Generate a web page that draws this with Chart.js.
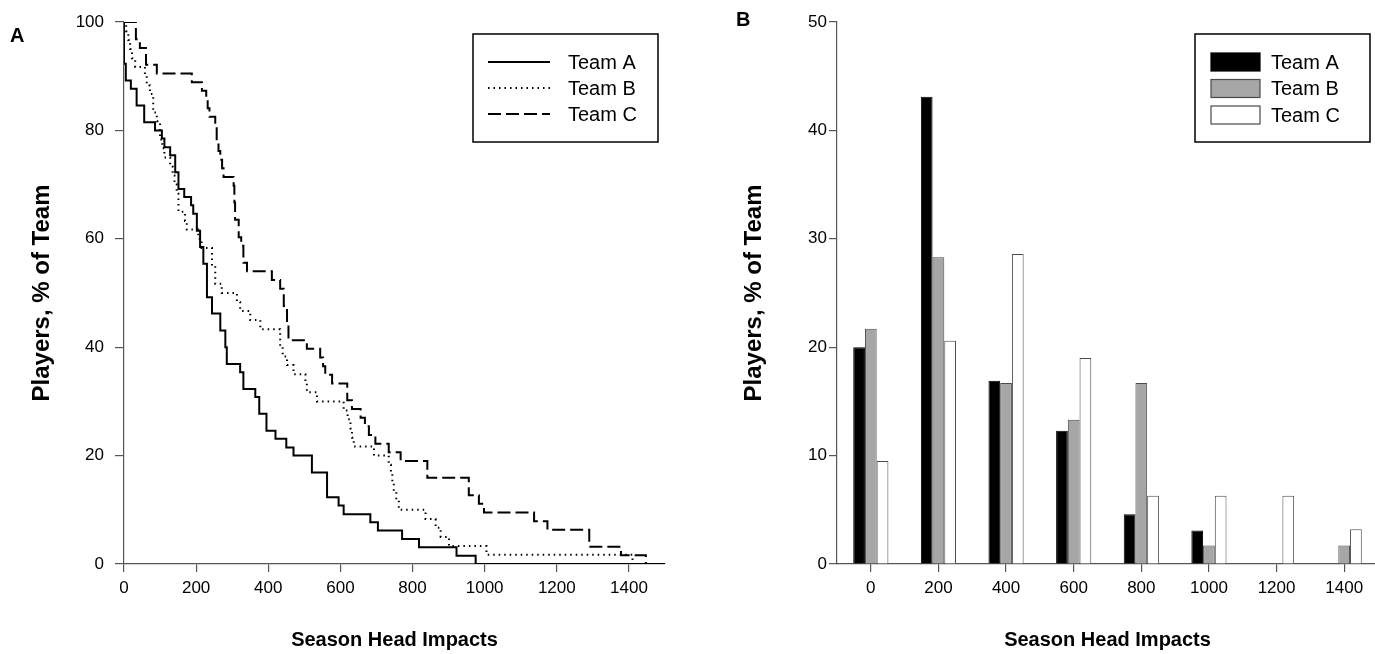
<!DOCTYPE html>
<html>
<head>
<meta charset="utf-8">
<script src="https://cdn.jsdelivr.net/npm/chart.js@4.4.0/dist/chart.umd.min.js"></script>
<style>
html, body { margin:0; padding:0; background:#fff; overflow:hidden; }
#wrap { position:relative; width:1375px; height:654px; overflow:hidden; }
#boxA { position:absolute; left:0; top:0; width:690px; height:654px; }
#boxB { position:absolute; left:690px; top:0; width:700px; height:654px; }
.panel { position:absolute; font: bold 20px "Liberation Sans", Arial, sans-serif; color:#000; }
</style>
</head>
<body>
<div id="wrap">
  <div id="boxA"><canvas id="graphiqueA" width="690" height="654"></canvas></div>
  <div id="boxB"><canvas id="graphiqueB" width="700" height="654"></canvas></div>
  <div class="panel" style="left:10px;top:24px">A</div>
  <div class="panel" style="left:736px;top:8px">B</div>
</div>
<script>
// panneau A : courbes en escalier (impacts, % de l'equipe)
let impA = [0, 0, 5, 19, 35, 56, 86, 105, 112, 128, 142, 151, 167, 186, 192, 202, 211, 220, 230, 244, 267, 281, 285, 322, 331, 364, 375, 395, 420, 450, 470, 521, 563, 595, 609, 683, 704, 771, 818, 922, 975, 1500];
let pctA = [100, 92.3, 89.2, 87.7, 84.6, 81.5, 80, 78.5, 76.9, 75.4, 72.3, 69.2, 67.7, 66.2, 64.6, 61.5, 58.5, 55.4, 49.2, 46.2, 43.1, 40, 36.9, 35.4, 32.3, 30.8, 27.7, 24.6, 23.1, 21.5, 20, 16.9, 12.3, 10.8, 9.2, 7.7, 6.2, 4.6, 3.1, 1.5, 0, 0];

let impB = [0, 6, 12, 17, 22, 31, 58, 63, 72, 81, 91, 100, 106, 112, 128, 135, 140, 146, 151, 169, 174, 206, 215, 244, 253, 271, 313, 322, 350, 378, 433, 440, 452, 470, 503, 507, 535, 609, 620, 628, 632, 637, 693, 734, 740, 744, 748, 755, 762, 836, 864, 878, 901, 1005, 1410];
let pctB = [100, 98.3, 96.7, 95, 93.3, 91.7, 90, 88.3, 86.7, 83.3, 81.7, 78.3, 76.7, 75, 73.3, 71.7, 70, 68.3, 65, 63.3, 61.7, 60, 58.3, 55, 51.7, 50, 48.3, 46.7, 45, 43.3, 40, 38.3, 36.7, 35, 33.3, 31.7, 30, 28.3, 26.7, 25, 23.3, 21.7, 20, 18.3, 16.7, 15, 13.3, 11.7, 10, 8.3, 6.7, 5, 3.3, 1.7, 0];

let impC = [0, 33, 44, 61, 91, 188, 216, 228, 232, 237, 253, 257, 262, 267, 272, 276, 304, 306, 308, 318, 325, 331, 341, 410, 433, 443, 452, 456, 507, 544, 552, 558, 577, 619, 632, 656, 668, 679, 697, 734, 767, 841, 956, 984, 998, 1137, 1174, 1290, 1378, 1447];
let pctC = [100, 96.8, 95.2, 92.1, 90.5, 88.9, 87.3, 85.7, 84.1, 82.5, 81, 77.8, 76.2, 74.6, 73, 71.4, 69.8, 66.7, 63.5, 60.3, 58.7, 55.6, 54, 52.4, 50.8, 47.6, 44.4, 41.3, 39.7, 38.1, 36.5, 34.9, 33.3, 30.2, 28.6, 27, 25.4, 23.8, 22.2, 20.6, 19, 15.9, 12.7, 11.1, 9.5, 7.9, 6.3, 3.2, 1.6, 0];

let graduationsA = [0, 200, 400, 600, 800, 1000, 1200, 1400];

// panneau B : histogramme
let classes = ['0', '200', '400', '600', '800', '1000', '1200', '1400'];
let barA = [20.0, 43.1, 16.9, 12.3, 4.6, 3.1, 0, 0];
let barB = [21.7, 28.3, 16.7, 13.3, 16.7, 1.7, 0, 1.7];
let barC = [9.5, 20.6, 28.6, 19.0, 6.3, 6.3, 6.3, 3.2];

const police = '"Liberation Sans", Arial, sans-serif';
const gris = '#555';

function points(xs, ys) {
    return xs.map((x, i) => ({x: x, y: ys[i]}));
}

// legende encadree dessinee dans le canvas
const boxLegend = {
    id: 'boxLegend',
    afterDraw(chart, args, o) {
        const ctx = chart.ctx;
        ctx.save();
        ctx.strokeStyle = '#000';
        ctx.lineWidth = 1.5;
        ctx.setLineDash([]);
        ctx.strokeRect(o.x, o.y, o.w, o.h);
        ctx.font = '20px ' + police;
        ctx.textBaseline = 'middle';
        chart.data.datasets.forEach((ds, i) => {
            const y = o.y + o.first + i * o.gap;
            if (o.kind === 'line') {
                ctx.strokeStyle = ds.borderColor;
                ctx.lineWidth = ds.borderWidth;
                ctx.setLineDash(ds.borderDash || []);
                ctx.beginPath();
                ctx.moveTo(o.sx, y);
                ctx.lineTo(o.sx + o.sw, y);
                ctx.stroke();
            } else {
                ctx.setLineDash([]);
                ctx.fillStyle = ds.backgroundColor;
                ctx.fillRect(o.sx, y - 9, o.sw, 18);
                ctx.strokeStyle = ds.borderColor;
                ctx.lineWidth = 1.2;
                ctx.strokeRect(o.sx, y - 9, o.sw, 18);
            }
            ctx.fillStyle = '#000';
            ctx.fillText(ds.label, o.tx, y + 1);
        });
        ctx.restore();
    }
};

var ctxA = document.getElementById('graphiqueA').getContext('2d');
var graphiqueA = new Chart(ctxA, {
    type: 'line',
    data: {
        datasets: [
            {label: 'Team A', data: points(impA, pctA), borderColor: '#000', borderWidth: 2, stepped: true, pointRadius: 0},
            {label: 'Team B', data: points(impB, pctB), borderColor: '#000', borderWidth: 2, borderDash: [1.5, 4], stepped: true, pointRadius: 0},
            {label: 'Team C', data: points(impC, pctC), borderColor: '#000', borderWidth: 2, borderDash: [13, 5], stepped: true, pointRadius: 0}
        ]
    },
    plugins: [boxLegend],
    options: {
        responsive: false,
        animation: false,
        layout: {padding: {top: 22, right: 25, left: 0, bottom: 0}},
        plugins: {
            legend: {display: false},
            tooltip: {enabled: false},
            boxLegend: {kind: 'line', x: 473, y: 34, w: 185, h: 108, first: 28, gap: 26, sx: 488, sw: 62, tx: 568}
        },
        scales: {
            x: {
                type: 'linear', min: 0, max: 1500,
                afterFit(s) { s.height = 90; },
                afterBuildTicks(s) { s.ticks = graduationsA.map(v => ({value: v})); },
                grid: {drawOnChartArea: false, tickLength: 8, color: gris, lineWidth: 1.2},
                border: {color: gris, width: 1.2},
                ticks: {color: '#000', font: {size: 17, family: police}, padding: 6, maxRotation: 0, callback: v => String(v)},
                title: {display: true, text: 'Season Head Impacts', color: '#000', font: {size: 20, weight: 'bold', family: police}, padding: {top: 0, bottom: 2}}
            },
            y: {
                min: 0, max: 100,
                afterFit(s) { s.width = 124; },
                grid: {drawOnChartArea: false, tickLength: 9, color: gris, lineWidth: 1.2},
                border: {color: gris, width: 1.2},
                ticks: {stepSize: 20, color: '#000', font: {size: 17, family: police}, padding: 11},
                title: {display: true, text: 'Players, % of Team', color: '#000', font: {size: 24, weight: 'bold', family: police}, padding: {top: 28, bottom: 0}}
            }
        }
    }
});

var ctxB = document.getElementById('graphiqueB').getContext('2d');
var graphiqueB = new Chart(ctxB, {
    type: 'bar',
    data: {
        labels: classes,
        datasets: [
            {label: 'Team A', data: barA, backgroundColor: '#000', borderColor: '#000', borderWidth: 1},
            {label: 'Team B', data: barB, backgroundColor: '#a6a6a6', borderColor: '#4a4a4a', borderWidth: 1},
            {label: 'Team C', data: barC, backgroundColor: '#fff', borderColor: '#4a4a4a', borderWidth: 1}
        ]
    },
    plugins: [boxLegend],
    options: {
        responsive: false,
        animation: false,
        categoryPercentage: 0.52,
        barPercentage: 1,
        layout: {padding: {top: 22, right: 12, left: 0, bottom: 0}},
        plugins: {
            legend: {display: false},
            tooltip: {enabled: false},
            boxLegend: {kind: 'bar', x: 505, y: 34, w: 175, h: 108, first: 28, gap: 26.5, sx: 521, sw: 49, tx: 581}
        },
        scales: {
            x: {
                afterFit(s) { s.height = 90; },
                grid: {drawOnChartArea: false, offset: false, tickLength: 8, color: gris, lineWidth: 1.2},
                border: {color: gris, width: 1.2},
                ticks: {color: '#000', font: {size: 17, family: police}, padding: 6, maxRotation: 0},
                title: {display: true, text: 'Season Head Impacts', color: '#000', font: {size: 20, weight: 'bold', family: police}, padding: {top: 0, bottom: 2}}
            },
            y: {
                min: 0, max: 50,
                afterFit(s) { s.width = 147; },
                grid: {drawOnChartArea: false, tickLength: 8, color: gris, lineWidth: 1.2},
                border: {color: gris, width: 1.2},
                ticks: {stepSize: 10, color: '#000', font: {size: 17, family: police}, padding: 2},
                title: {display: true, text: 'Players, % of Team', color: '#000', font: {size: 24, weight: 'bold', family: police}, padding: {top: 50, bottom: 0}}
            }
        }
    }
});
</script>
</body>
</html>
